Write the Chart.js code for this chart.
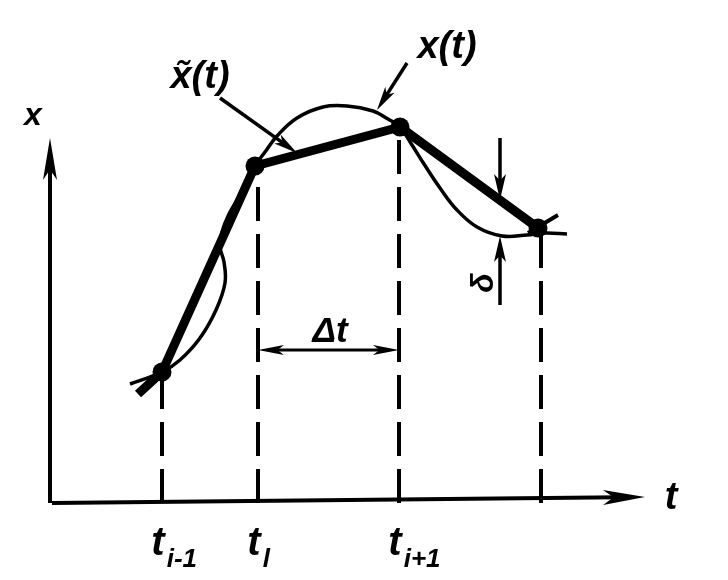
<!DOCTYPE html>
<html>
<head>
<meta charset="utf-8">
<script src="https://cdn.jsdelivr.net/npm/chart.js@4.4.1/dist/chart.umd.min.js"></script>
<style>
  html, body { margin: 0; padding: 0; background: #fff; }
  #wrap { width: 728px; height: 580px; }
</style>
</head>
<body>
<div id="wrap"><canvas id="chart" width="728" height="580"></canvas></div>
<script>
// true curve x(t)
var curveT = [1.56, 2.2, 2.56, 2.96, 3.28, 3.46, 3.44, 3.36, 3.4, 3.54, 3.76, 4.06, 4.26, 4.5, 4.9, 5.42, 5.9, 6.42, 6.72, 6.96, 7.2, 7.44, 7.76, 8.1, 8.5, 9.0, 9.5, 9.86, 10.3];
var curveX = [2.38, 2.62, 2.86, 3.3, 3.86, 4.4, 4.82, 5.12, 5.42, 5.78, 6.16, 6.74, 7.02, 7.34, 7.7, 7.92, 7.94, 7.84, 7.68, 7.52, 7.16, 6.78, 6.3, 5.86, 5.52, 5.34, 5.36, 5.4, 5.38];

// piecewise linear approximation x~(t)
var approxT = [1.72, 2.2, 4.06, 6.96, 9.72];
var approxX = [2.18, 2.62, 6.74, 7.52, 5.5];

// sample instants (dashed drop lines)
var sampleT = [2.2, 4.12, 6.94, 9.78];
var sampleX = [2.62, 6.74, 7.52, 5.5];
var sampleMain = ['t', 't', 't', ''];
var sampleSub = ['i-1', 'l', 'i+1', ''];

// delta mark and step
var deltaT = 8.96;
var deltaTop = [7.3, 6.06];
var deltaBottom = [3.96, 5.34];
var stepX = 3.06;

function pts(ts, xs) {
    return ts.map(function (t, i) { return { x: t, y: xs[i] }; });
}

var dropSets = sampleT.map(function (t, i) {
    return {
        data: [{ x: t, y: 0 }, { x: t, y: sampleX[i] }],
        showLine: true,
        borderColor: '#000',
        borderWidth: 4,
        borderDash: [34, 13],
        pointRadius: 0,
        clip: false
    };
});

function arrow(ctx, x1, y1, x2, y2, len, w, lw) {
    var a = Math.atan2(y2 - y1, x2 - x1);
    ctx.lineWidth = lw;
    ctx.beginPath();
    ctx.moveTo(x1, y1);
    ctx.lineTo(x2 - Math.cos(a) * len * 0.6, y2 - Math.sin(a) * len * 0.6);
    ctx.stroke();
    ctx.beginPath();
    ctx.moveTo(x2, y2);
    ctx.lineTo(x2 - Math.cos(a) * len - Math.sin(a) * w / 2, y2 - Math.sin(a) * len + Math.cos(a) * w / 2);
    ctx.lineTo(x2 - Math.cos(a) * len * 0.75, y2 - Math.sin(a) * len * 0.75);
    ctx.lineTo(x2 - Math.cos(a) * len + Math.sin(a) * w / 2, y2 - Math.sin(a) * len - Math.cos(a) * w / 2);
    ctx.closePath();
    ctx.fill();
}

var sketch = {
    id: 'sketch',
    beforeDatasetsDraw: function (chart) {
        var ctx = chart.ctx, sx = chart.scales.x, sy = chart.scales.y;
        var X = function (v) { return sx.getPixelForValue(v); };
        var Y = function (v) { return sy.getPixelForValue(v); };
        ctx.save();
        ctx.strokeStyle = '#000';
        ctx.fillStyle = '#000';
        ctx.lineCap = 'butt';
        // axes
        arrow(ctx, X(0), Y(0), X(11.86), Y(0.12), 42, 15, 4);
        arrow(ctx, X(-0.04), Y(0), X(-0.04), Y(7.3), 42, 14, 4);
        ctx.restore();
    },
    afterDatasetsDraw: function (chart) {
        var ctx = chart.ctx, sx = chart.scales.x, sy = chart.scales.y;
        var X = function (v) { return sx.getPixelForValue(v); };
        var Y = function (v) { return sy.getPixelForValue(v); };
        ctx.save();
        ctx.strokeStyle = '#000';
        ctx.fillStyle = '#000';

        // delta arrows
        arrow(ctx, X(deltaT), Y(deltaTop[0]), X(deltaT), Y(deltaTop[1]), 26, 12, 3.5);
        arrow(ctx, X(deltaT), Y(deltaBottom[0]), X(deltaT), Y(deltaBottom[1]), 26, 12, 3.5);

        // step arrow
        arrow(ctx, X(5.3), Y(stepX), X(sampleT[1]), Y(stepX), 26, 10, 3);
        arrow(ctx, X(5.3), Y(stepX), X(sampleT[2]), Y(stepX), 26, 10, 3);

        // leaders
        arrow(ctx, X(3.36), Y(8.1), X(4.9), Y(7.0), 24, 11, 3.5);
        arrow(ctx, X(7.1), Y(8.8), X(6.5), Y(7.86), 24, 11, 3.5);

        ctx.textAlign = 'center';
        ctx.textBaseline = 'alphabetic';
        var f = function (px) { return 'italic bold ' + px + 'px "Liberation Sans", "DejaVu Sans", sans-serif'; };

        ctx.font = f(35);
        ctx.fillText('\u0394t', X(5.56), Y(3.22));
        ctx.font = f(38);
        ctx.fillText('x\u0303(t)', X(2.96), Y(8.3));
        ctx.fillText('x(t)', X(7.9), Y(8.9));
        ctx.font = f(32);
        ctx.fillText('x', X(-0.38), Y(7.56));
        ctx.font = f(38);
        ctx.fillText('t', X(12.38), Y(-0.12));

        // sample labels
        for (var i = 0; i < sampleT.length; i++) {
            if (!sampleMain[i]) continue;
            var cx = X(sampleT[i]) - 4;
            ctx.font = f(40);
            ctx.textAlign = 'left';
            var w = ctx.measureText(sampleMain[i]).width;
            ctx.fillText(sampleMain[i], cx - w / 2, Y(-1.04));
            ctx.font = f(26);
            ctx.fillText(sampleSub[i], cx + w / 2 + 2, Y(-1.28));
        }

        // delta symbol, lying on its side
        ctx.save();
        ctx.translate(X(8.64), Y(4.4));
        ctx.rotate(-Math.PI / 2);
        ctx.font = f(32);
        ctx.textAlign = 'center';
        ctx.textBaseline = 'middle';
        ctx.fillText('\u03b4', 0, 0);
        ctx.restore();

        ctx.restore();
    }
};

new Chart(document.getElementById('chart'), {
    type: 'scatter',
    data: {
        datasets: [
            {
                data: pts(curveT, curveX),
                showLine: true,
                borderColor: '#000',
                borderWidth: 3.5,
                tension: 0.4,
                pointRadius: 0,
                clip: false
            },
            {
                data: pts(approxT, approxX),
                showLine: true,
                borderColor: '#000',
                backgroundColor: '#000',
                borderWidth: 9,
                borderJoinStyle: 'round',
                pointRadius: [0, 9.5, 9.5, 9.5, 9.5],
                pointBorderWidth: 0,
                clip: false
            },
            {
                data: [{ x: 9.52, y: 5.4 }, { x: 10.12, y: 5.76 }],
                showLine: true,
                borderColor: '#000',
                borderWidth: 4,
                pointRadius: 0,
                clip: false
            }
        ].concat(dropSets)
    },
    plugins: [sketch],
    options: {
        responsive: false,
        animation: false,
        layout: { padding: { left: 52, right: 76, top: 103, bottom: 77 } },
        plugins: { legend: { display: false }, tooltip: { enabled: false } },
        scales: {
            x: { type: 'linear', min: 0, max: 12, display: false },
            y: { type: 'linear', min: 0, max: 8, display: false }
        }
    }
});
</script>
</body>
</html>
